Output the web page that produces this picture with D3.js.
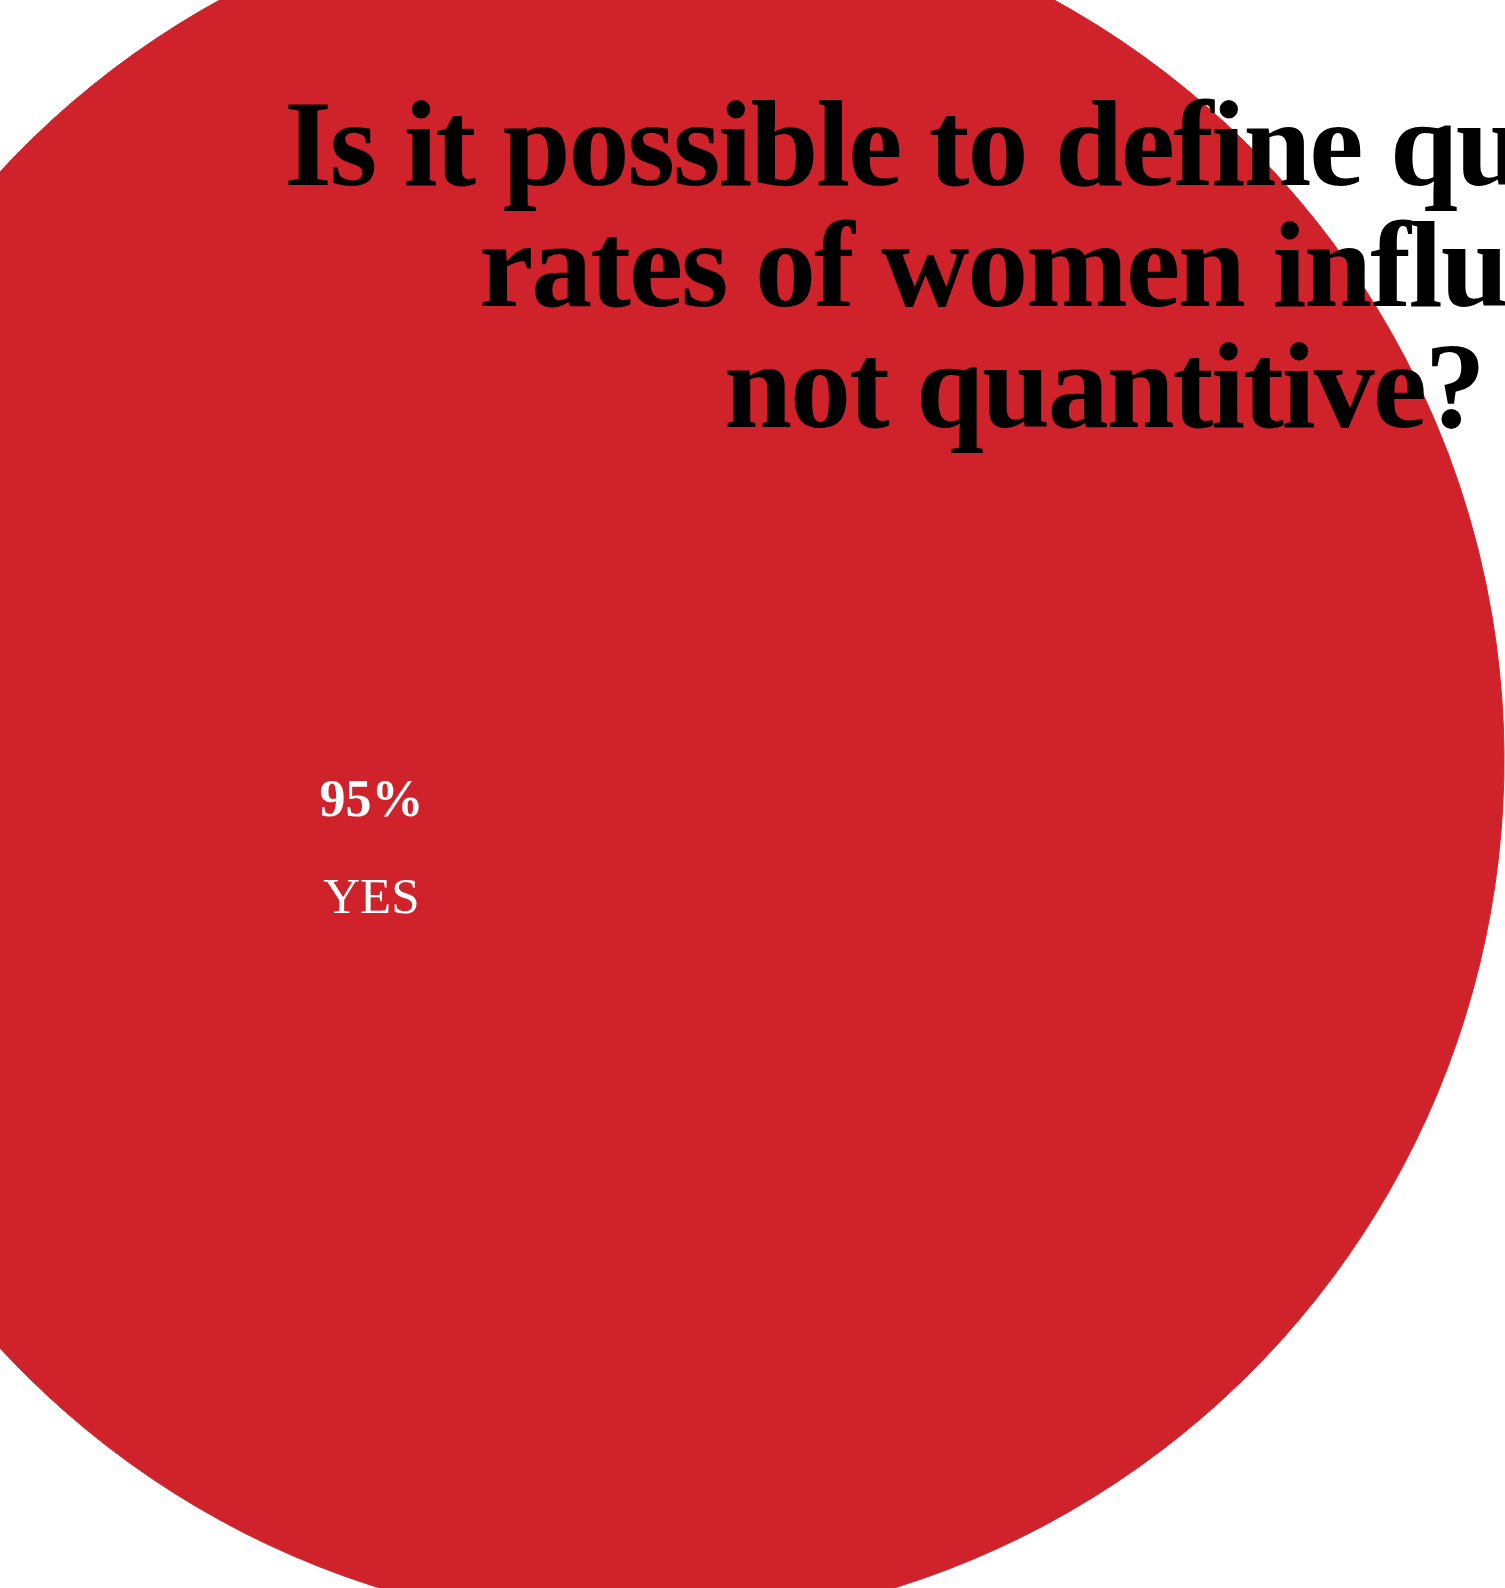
<!DOCTYPE html>
<html>
<head>
<meta charset="utf-8">
<script src="https://cdn.jsdelivr.net/npm/d3@7"></script>
<style>
  body { margin: 0; background: #fff; overflow: hidden; }
  svg { display: block; }
</style>
</head>
<body>
<svg id="pie_svg" width="1505" height="1588"></svg>
<script>
// survey answers
const answers = ["YES", "NO"];
const shares = [95, 5];
const titleLines = [
    "Is it possible to define qualitative",
    "rates of women influence",
    "not quantitive?"
];

const red = "#d0222a";

const svg = d3.select("#pie_svg");
const width = +svg.attr("width");
const height = +svg.attr("height");

// the pie is much bigger than the page and hangs off the edges
const cx = 637, cy = 760;
const radius = 867;

const data = answers.map((a, i) => ({answer: a, share: shares[i]}));

// rotated so the YES label lands left of centre
const start = 80.5 * Math.PI / 180;
const pie = d3.pie()
    .value(d => d.share)
    .sort(null)
    .startAngle(start)
    .endAngle(start + 2 * Math.PI);

const data_ready = pie(data);

// both slices come out the same red in the original
const color = d3.scaleOrdinal()
    .domain(answers)
    .range([red, red]);

const g = svg.append("g")
    .attr("transform", `translate(${cx}, ${cy})`);

g.selectAll("path")
    .data(data_ready)
    .join("path")
    .attr("d", d3.arc().innerRadius(0).outerRadius(radius))
    .attr("fill", d => color(d.data.answer))
    .attr("stroke", red)
    .attr("stroke-width", 1);

// label only the big slice
const labelArc = d3.arc().innerRadius(radius * 0.323).outerRadius(radius * 0.323);
const yes = data_ready.filter(d => d.data.answer == "YES");

const lbl = g.selectAll("g.lbl")
    .data(yes)
    .join("g")
    .attr("class", "lbl")
    .attr("transform", d => `translate(${labelArc.centroid(d)})`);

lbl.append("text")
    .attr("y", -33)
    .attr("text-anchor", "middle")
    .style("font-family", "'Liberation Serif', serif")
    .style("font-weight", "bold")
    .style("font-size", "52px")
    .attr("fill", "#fff")
    .text(d => d.data.share + "%");

lbl.append("text")
    .attr("y", 64)
    .attr("text-anchor", "middle")
    .style("font-family", "'Liberation Serif', serif")
    .style("font-size", "51px")
    .attr("fill", "#fff")
    .text(d => d.data.answer);

// title sits on top of the pie, centred, and runs off the right edge
svg.append("text")
    .attr("text-anchor", "middle")
    .style("font-family", "'Liberation Serif', serif")
    .style("font-weight", "bold")
    .style("font-size", "122px")
    .style("letter-spacing", "-2px")
    .attr("fill", "#000")
    .selectAll("tspan")
    .data(titleLines)
    .join("tspan")
    .attr("x", 1104)
    .attr("y", (d, i) => 185 + i * 121)
    .text(d => d);
</script>
</body>
</html>
